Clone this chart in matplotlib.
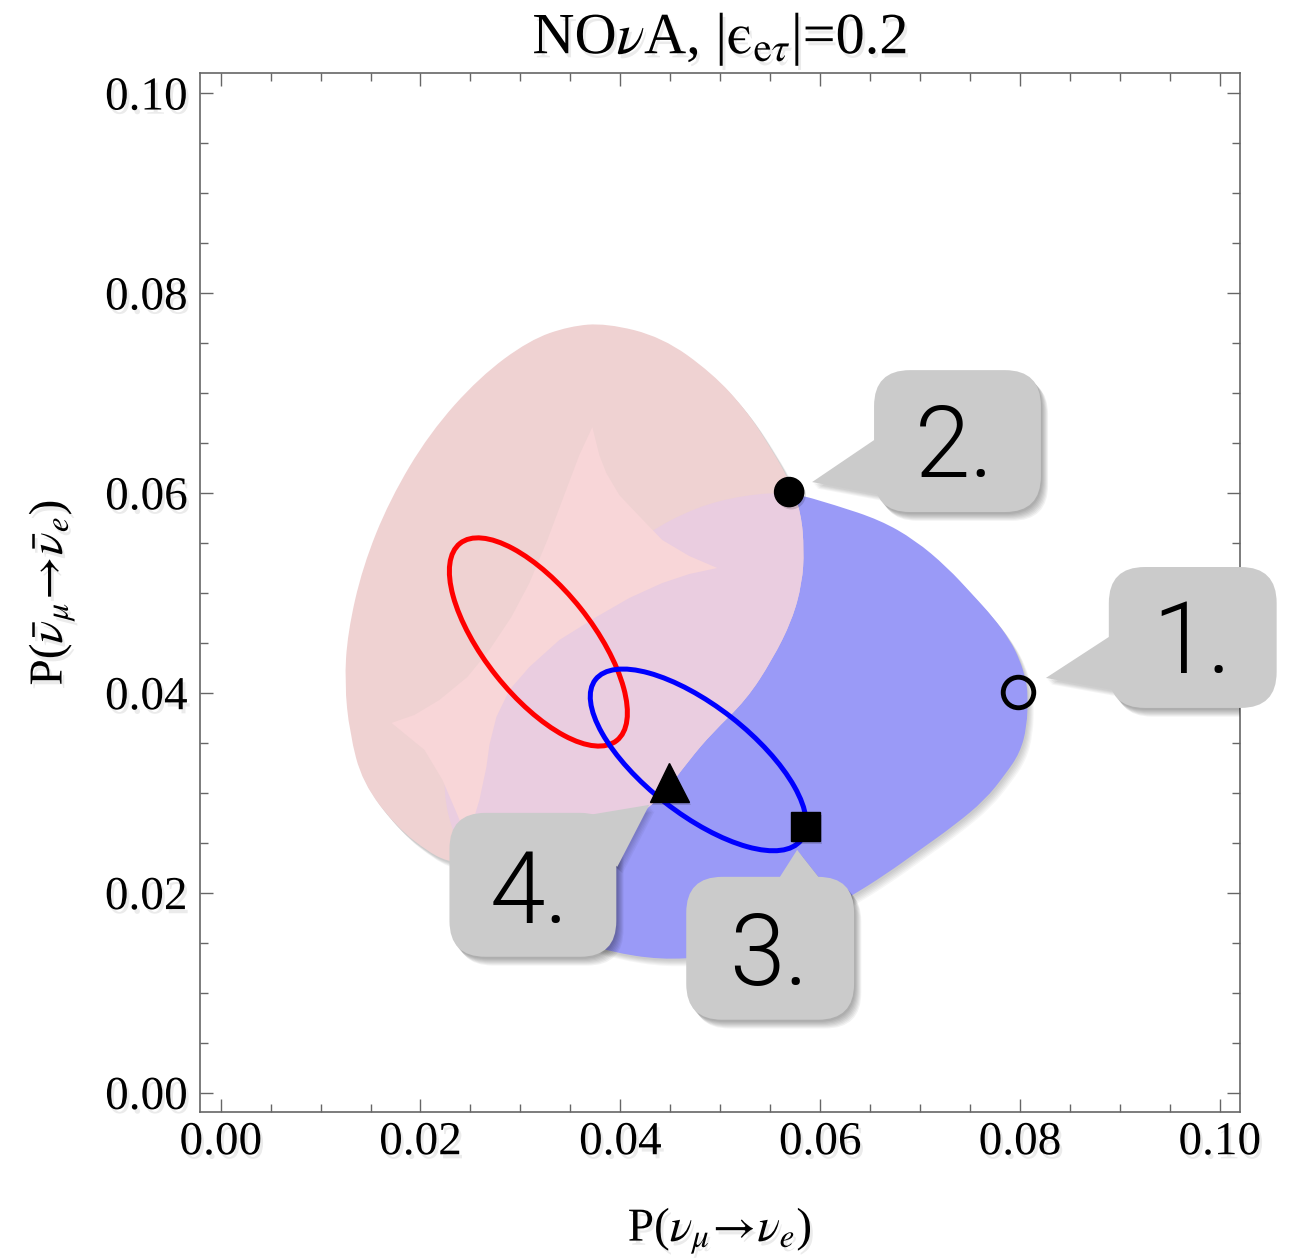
import numpy as np
import matplotlib
matplotlib.use("Agg")
import matplotlib.pyplot as plt
import matplotlib.transforms as mtransforms
import matplotlib.patheffects as pe
from matplotlib.patches import Polygon, Ellipse, FancyBboxPatch, PathPatch
from matplotlib.path import Path

plt.rcParams['font.family'] = ['Liberation Serif', 'DejaVu Serif']
plt.rcParams['mathtext.fontset'] = 'stix'

# outline of the blue region, P(nu_mu->nu_e) vs P(nubar_mu->nubar_e)
blue_x = [0.0570, 0.0615, 0.0660, 0.0695, 0.0727, 0.0753, 0.0773, 0.0790, 0.0800, 0.0806,
          0.0808, 0.0807, 0.0800, 0.0785, 0.0765, 0.0735, 0.0700, 0.0665, 0.0630, 0.0580,
          0.0540, 0.0490, 0.0440, 0.0390, 0.0350, 0.0300, 0.0260, 0.0234, 0.0222, 0.0229,
          0.0242, 0.0276, 0.0326, 0.0376, 0.0426, 0.0476, 0.0524]
blue_y = [0.0601, 0.0588, 0.0573, 0.0553, 0.0526, 0.0498, 0.0476, 0.0453, 0.0433, 0.0413,
          0.0398, 0.0366, 0.0340, 0.0318, 0.0293, 0.0268, 0.0243, 0.0218, 0.0196, 0.0168,
          0.0151, 0.0136, 0.0133, 0.0141, 0.0153, 0.0178, 0.0213, 0.0253, 0.0303, 0.0343,
          0.0360, 0.0410, 0.0466, 0.0520, 0.0560, 0.0586, 0.0598]

# outline of the pink region
pink_x = [0.0386, 0.0442, 0.0492, 0.0526, 0.0552, 0.0569, 0.0581, 0.0584, 0.0582, 0.0572,
          0.0552, 0.0526, 0.0492, 0.0469, 0.0439, 0.0404, 0.0359, 0.0309, 0.0259, 0.0229,
          0.0209, 0.0176, 0.0142, 0.0129, 0.0124, 0.0127, 0.0142, 0.0169, 0.0209, 0.0259,
          0.0309, 0.0349]
pink_y = [0.0770, 0.0756, 0.0720, 0.0683, 0.0643, 0.0613, 0.0580, 0.0543, 0.0510, 0.0473,
          0.0433, 0.0393, 0.0360, 0.0333, 0.0293, 0.0268, 0.0248, 0.0231, 0.0225, 0.0231,
          0.0240, 0.0266, 0.0310, 0.0360, 0.0410, 0.0460, 0.0526, 0.0593, 0.0660, 0.0716,
          0.0753, 0.0767]

# lighter four-cusp area inside the pink region
star_x = [0.0372, 0.0379, 0.0386, 0.0399, 0.0416, 0.0442, 0.0469, 0.0497, 0.0469, 0.0442,
          0.0409, 0.0376, 0.0339, 0.0309, 0.0289, 0.0276, 0.0269, 0.0266, 0.0259, 0.0247,
          0.0237, 0.0222, 0.0204, 0.0171, 0.0194, 0.0219, 0.0247, 0.0269, 0.0291, 0.0309,
          0.0327, 0.0342, 0.0359]
star_y = [0.0666, 0.0638, 0.0620, 0.0598, 0.0580, 0.0553, 0.0537, 0.0525, 0.0519, 0.0510,
          0.0495, 0.0476, 0.0453, 0.0426, 0.0403, 0.0376, 0.0348, 0.0326, 0.0293, 0.0253,
          0.0278, 0.0313, 0.0343, 0.0370, 0.0378, 0.0393, 0.0416, 0.0443, 0.0476, 0.0510,
          0.0553, 0.0593, 0.0638]

# the two ellipses: centre, full width, full height, tilt (deg)
ell_cx = [0.0318, 0.0478]
ell_cy = [0.0451, 0.0333]
ell_w = [0.0252, 0.0261]
ell_h = [0.0108, 0.0108]
ell_angle = [-51.5, -38.0]
ell_color = ['#ff0000', '#0000ff']

# labelled points 1..4
pt_x = [0.0798, 0.0569, 0.0585, 0.0449]
pt_y = [0.0401, 0.0601, 0.0266, 0.0310]
pt_labels = ['1.', '2.', '3.', '4.']

ticks = [0.00, 0.02, 0.04, 0.06, 0.08, 0.10]
tick_labels = ['0.00', '0.02', '0.04', '0.06', '0.08', '0.10']

# callout boxes: (x0, y0, w, h), pointer tip, pointer base points, text anchor
callouts = [
    dict(box=(0.0889, 0.0385, 0.0168, 0.0141), tip=(0.0826, 0.0415),
         base=[(0.0889, 0.0456), (0.0909, 0.0400)], txt=(0.0972, 0.0420)),
    dict(box=(0.0654, 0.0581, 0.0167, 0.0142), tip=(0.0592, 0.0611),
         base=[(0.0654, 0.0653), (0.0672, 0.0596)], txt=(0.0735, 0.0616)),
    dict(box=(0.0466, 0.0073, 0.0168, 0.0143), tip=(0.0577, 0.0243),
         base=[(0.0556, 0.0210), (0.0607, 0.0205)], txt=(0.0549, 0.0108)),
    dict(box=(0.0229, 0.0136, 0.0167, 0.0144), tip=(0.0429, 0.0288),
         base=[(0.0339, 0.0273), (0.0397, 0.0226)], txt=(0.0309, 0.0170)),
]

fig = plt.figure(figsize=(12.9, 12.58), dpi=100)
ax = fig.add_axes([200 / 1290, 146 / 1258, 1040 / 1290, 1039 / 1258])
ax.set_xlim(-0.00207, 0.10203)
ax.set_ylim(-0.00193, 0.10203)


def smooth_path(xs, ys):
    # closed quadratic-bezier outline using the traced points as control points
    p = np.column_stack([xs, ys])
    mids = (p + np.roll(p, -1, axis=0)) / 2
    verts = [mids[-1]]
    codes = [Path.MOVETO]
    for i in range(len(p)):
        verts += [p[i], mids[i]]
        codes += [Path.CURVE3, Path.CURVE3]
    verts.append(mids[-1])
    codes.append(Path.CLOSEPOLY)
    return Path(verts, codes)


def shifted(dx, dy):
    return ax.transData + mtransforms.ScaledTranslation(dx / 72, dy / 72, fig.dpi_scale_trans)


def soft_shadow(make_patch, z, steps=6, alpha=0.035):
    # fake blur: several offset copies with low alpha
    for k in range(steps):
        p = make_patch()
        p.set_transform(shifted(1.0 + 0.7 * k, -1.5 - 0.8 * k))
        p.set_facecolor('black')
        p.set_edgecolor('none')
        p.set_alpha(alpha)
        p.set_zorder(z)
        ax.add_patch(p)


blue_path = smooth_path(blue_x, blue_y)
pink_path = smooth_path(pink_x, pink_y)
star_pts = np.column_stack([star_x, star_y])

soft_shadow(lambda: PathPatch(blue_path), 1)
soft_shadow(lambda: PathPatch(pink_path), 1)
ax.add_patch(PathPatch(blue_path, fc='#9a9af7', ec='none', zorder=2))
pink_patch = PathPatch(pink_path, fc='#efd2d2', ec='none', zorder=3)
ax.add_patch(pink_patch)
# where pink lies over blue the colour turns lilac
overlap = PathPatch(blue_path, fc='#eacde0', ec='none', zorder=3.5)
ax.add_patch(overlap)
overlap.set_clip_path(pink_patch)
ax.add_patch(Polygon(star_pts, closed=True, fc='#f8d6d8', ec='none', zorder=4))

for cx, cy, w, h, a, c in zip(ell_cx, ell_cy, ell_w, ell_h, ell_angle, ell_color):
    ax.add_patch(Ellipse((cx, cy), w, h, angle=a, fill=False, ec=c, lw=3.6, zorder=5))

mk_shadow = [pe.SimplePatchShadow(offset=(1.5, -2), shadow_rgbFace='k', alpha=0.15), pe.Normal()]
ax.plot(pt_x[0], pt_y[0], 'o', ms=22, mfc='none', mec='k', mew=3.5, zorder=6)
ax.plot(pt_x[1], pt_y[1], 'o', ms=21, color='k', zorder=6, path_effects=mk_shadow)
ax.plot(pt_x[2], pt_y[2], 's', ms=21, color='k', zorder=6, path_effects=mk_shadow)
ax.plot(pt_x[3], pt_y[3], '^', ms=28, color='k', zorder=6, path_effects=mk_shadow)

box_col = '#cbcbcb'
for c, lab in zip(callouts, pt_labels):
    x0, y0, w, h = c['box']
    ptr = [c['tip'], c['base'][0], c['base'][1]]

    def mk_box(x0=x0, y0=y0, w=w, h=h):
        return FancyBboxPatch((x0, y0), w, h, boxstyle='round,pad=0,rounding_size=0.0036')

    def mk_ptr(ptr=ptr):
        return Polygon(ptr, closed=True)

    soft_shadow(mk_box, 7, steps=7, alpha=0.05)
    soft_shadow(mk_ptr, 7, steps=5, alpha=0.04)
    b = mk_box()
    b.set(fc=box_col, ec='none', zorder=8, clip_on=False)
    ax.add_patch(b)
    p = mk_ptr()
    p.set(fc=box_col, ec='none', zorder=8, clip_on=False)
    ax.add_patch(p)
    ax.text(c['txt'][0], c['txt'][1], lab, ha='center', va='baseline', fontsize=72,
            family=['Roboto', 'Liberation Sans'], fontweight=300, zorder=9, clip_on=False)

# frame and ticks
for s in ax.spines.values():
    s.set_color('#666666')
    s.set_linewidth(1.2)
ax.set_xticks(ticks)
ax.set_xticklabels(tick_labels)
ax.set_yticks(ticks)
ax.set_yticklabels(tick_labels)
ax.set_xticks(np.arange(0, 0.1001, 0.005), minor=True)
ax.set_yticks(np.arange(0, 0.1001, 0.005), minor=True)
ax.tick_params(which='both', direction='in', top=True, right=True, color='#666666',
               width=1.0, labelsize=34)
ax.tick_params(which='major', length=9.5)
ax.tick_params(which='minor', length=5.8)
ax.tick_params(axis='x', pad=7)
ax.tick_params(axis='y', pad=9)

txt_shadow = [pe.SimplePatchShadow(offset=(2, -3), shadow_rgbFace='k', alpha=0.08), pe.Normal()]
for t in ax.get_xticklabels() + ax.get_yticklabels():
    t.set_path_effects(txt_shadow)

ax.set_xlabel(r'P($\nu_\mu\!\rightarrow\!\nu_e$)', fontsize=34, labelpad=30,
              path_effects=txt_shadow)
ax.set_ylabel(r'P($\bar{\nu}_\mu\!\rightarrow\!\bar{\nu}_e$)', fontsize=34, labelpad=20,
              path_effects=txt_shadow)
ax.set_title('NO$\\nu$A, |$\\mathrm{\u03f5}_{\\mathrm{e}\\tau}$|=0.2', fontsize=42, pad=14,
             path_effects=txt_shadow)

fig.savefig('out.png', dpi=100)
